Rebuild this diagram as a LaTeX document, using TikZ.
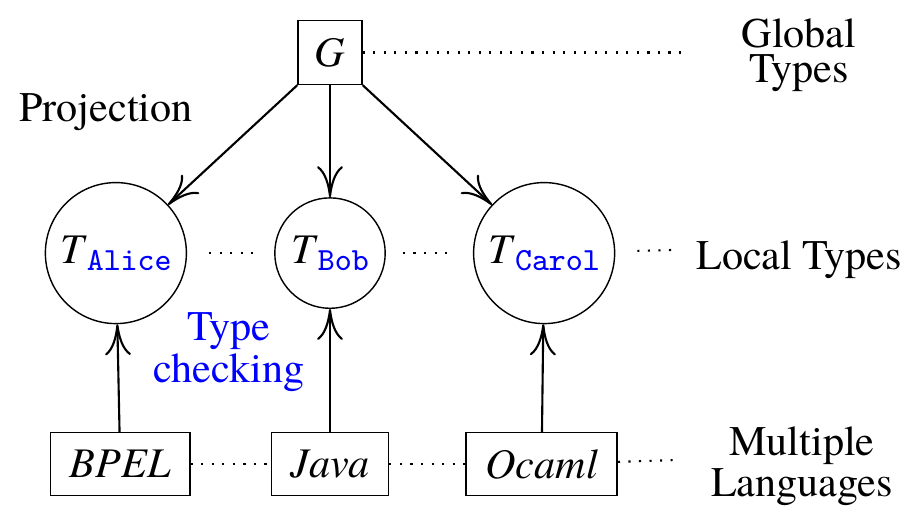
\documentclass[tikz,border=0pt]{standalone}
\usepackage{fontspec}
\setmainfont{texgyretermes}[Extension=.otf,UprightFont=*-regular,ItalicFont=*-italic,BoldFont=*-bold,BoldItalicFont=*-bolditalic]
\usetikzlibrary{arrows.meta,positioning,shapes}
\newcommand{\localType}[1]{\textit{T}\raisebox{-0.35ex}{\fontsize{9.2}{9}\selectfont\ttfamily\color{blue}#1}}

\begin{document}
\begin{tikzpicture}
[ node distance=11.2mm and 8.7mm,
		font=\rmfamily\fontsize{12}{10}\selectfont,
		global/.style={rectangle,draw,minimum size=6.4mm,inner sep=0pt},
		local/.style={circle,draw,inner sep=2.7pt},
		language/.style={rectangle,draw,minimum height=6.3mm,inner xsep=5.5pt},
		note/.style={align=center},
		arrowTo/.style={-{To[length=3.1mm,width=2.6mm]},semithick},
		dots/.style={dash pattern=on 0.6pt off 2.4pt,semithick}]
	\useasboundingbox (0,0) rectangle (9.13,5.15);

	\node[global] (G) at (3.30,4.625) {\textit{G}};
	\node[local] (bob) [below=of G] {\localType{Bob}};
	\node[local] (alice) [left=of bob] {\localType{Alice}};
	\node[local] (carol) [right=of bob] {\localType{Carol}};
	\node[language] (java) [below=12.3mm of bob] {\textit{Java}};
	\node[language] (bpel) [left=8mm of java] {\textit{BPEL}};
	\node[language] (ocaml) [right=7.6mm of java] {\textit{Ocaml}};

	\node[note] (global types) at (7.99,4.60) {Global\\Types};
	\node (projection) at (1.06,4.03) {Projection};
	\node (local types) at (7.99,2.55) {Local Types};
	\node[note,text=blue] (type checking) at (2.29,1.63) {Type\\checking};
	\node[note] (languages) at (8.02,0.49) {Multiple\\Languages};

	\coordinate (global end) at (6.88,4.625);
	\coordinate (local end) at (6.73,2.65);
	\coordinate (language end) at (6.78,0.55);

	\draw[arrowTo] (G.south west) -- (alice);
	\draw[arrowTo] (G) -- (bob);
	\draw[arrowTo] (G.south east) -- (carol);
	\draw[arrowTo] (bpel) -- (alice);
	\draw[arrowTo] (java) -- (bob);
	\draw[arrowTo] (ocaml) -- (carol);

	\draw[dots] (G) -- (global end);
	\draw[dots,shorten <=2.2mm,shorten >=1.7mm] (alice) -- (bob);
	\draw[dots,shorten <=1.7mm,shorten >=2.2mm] (bob) -- (carol);
	\draw[dots,shorten <=2.2mm] (carol) -- (local end);
	\draw[dots] (bpel) -- (java);
	\draw[dots] (java) -- (ocaml);
	\draw[dots] (ocaml) -- (language end);
\end{tikzpicture}
\end{document}
